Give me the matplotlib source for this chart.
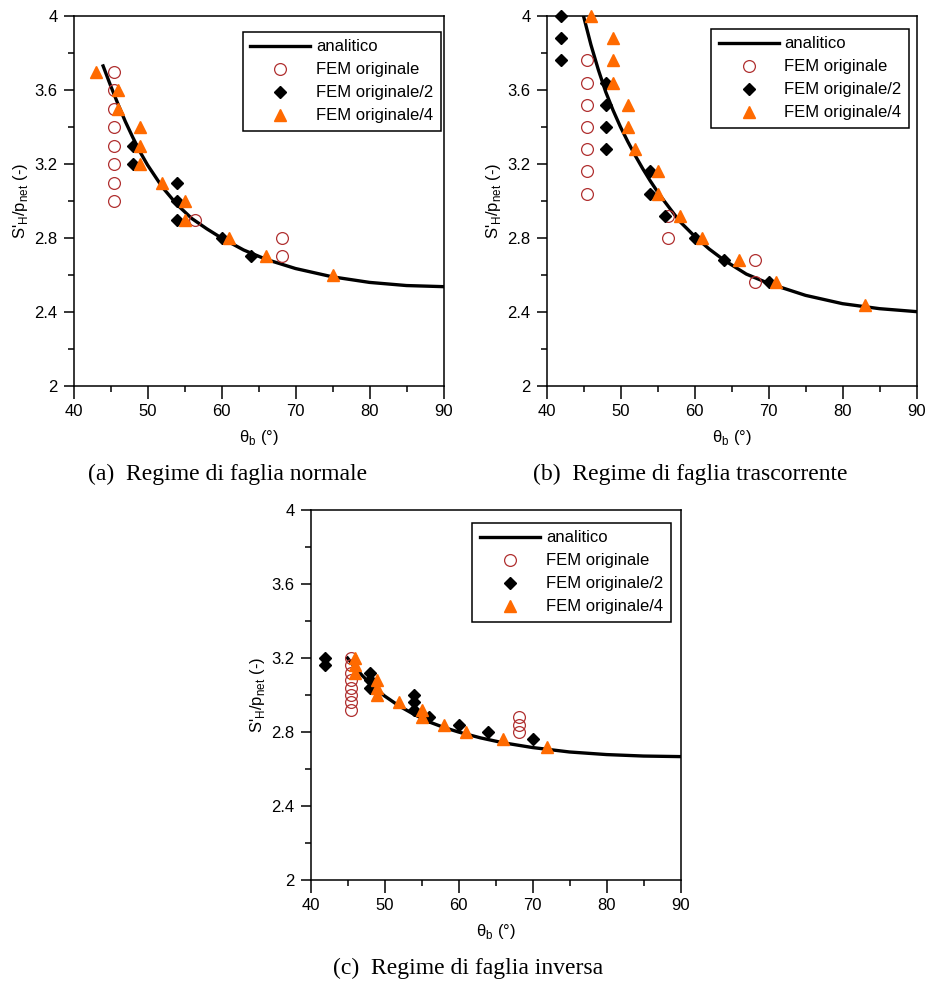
'''
S'H/pnet vs theta_b, tre regimi di faglia
'''

import matplotlib
matplotlib.use('Agg')
import matplotlib.pyplot as plt
from matplotlib.ticker import MultipleLocator, FormatStrFormatter

plt.rcParams['font.family'] = ['Liberation Sans', 'DejaVu Sans']
plt.rcParams['mathtext.fontset'] = 'custom'
plt.rcParams['mathtext.rm'] = 'Liberation Sans'

# --- (a) faglia normale ---
a_curve_x = [44.0, 45.0, 46.0, 47.0, 48.0, 49.0, 50.0, 52.0, 54.0, 56.0, 58.0, 60.0, 63.0, 66.0, 70.0, 75.0, 80.0, 85.0, 90.0]
a_curve_y = [3.73, 3.625, 3.525, 3.43, 3.345, 3.265, 3.195, 3.075, 2.98, 2.905, 2.85, 2.80, 2.735, 2.685, 2.635, 2.59, 2.56, 2.543, 2.537]
a_fem_x = [45.5, 45.5, 45.5, 45.5, 45.5, 45.5, 45.5, 45.5, 56.4, 68.2, 68.2]
a_fem_y = [3.7, 3.6, 3.5, 3.4, 3.3, 3.2, 3.1, 3.0, 2.9, 2.8, 2.7]
a_fem2_x = [48, 48, 54, 54, 54, 60, 64]
a_fem2_y = [3.3, 3.2, 3.1, 3.0, 2.9, 2.8, 2.7]
a_fem4_x = [43, 46, 46, 49, 49, 49, 52, 55, 55, 61, 66, 75]
a_fem4_y = [3.7, 3.6, 3.5, 3.4, 3.3, 3.2, 3.1, 3.0, 2.9, 2.8, 2.7, 2.6]

# --- (b) faglia trascorrente ---
b_curve_x = [45.0, 46.0, 47.0, 48.0, 49.0, 50.0, 51.0, 52.0, 53.0, 54.0, 55.0, 56.0, 58.0, 60.0, 62.0, 64.0, 67.0, 70.0, 75.0, 80.0, 85.0, 90.0]
b_curve_y = [4.0, 3.845, 3.71, 3.59, 3.49, 3.40, 3.32, 3.245, 3.175, 3.11, 3.05, 2.995, 2.89, 2.81, 2.74, 2.68, 2.605, 2.555, 2.49, 2.445, 2.418, 2.402]
b_fem_x = [45.5, 45.5, 45.5, 45.5, 45.5, 45.5, 45.5, 56.4, 56.4, 68.2, 68.2]
b_fem_y = [3.76, 3.64, 3.52, 3.40, 3.28, 3.16, 3.04, 2.92, 2.80, 2.68, 2.56]
b_fem2_x = [42, 42, 42, 48, 48, 48, 48, 54, 54, 56, 60, 64, 70]
b_fem2_y = [4.0, 3.88, 3.76, 3.64, 3.52, 3.40, 3.28, 3.16, 3.04, 2.92, 2.80, 2.68, 2.56]
b_fem4_x = [46, 49, 49, 49, 51, 51, 52, 55, 55, 58, 61, 66, 71, 83]
b_fem4_y = [4.0, 3.88, 3.76, 3.64, 3.52, 3.40, 3.28, 3.16, 3.04, 2.92, 2.80, 2.68, 2.56, 2.44]

# --- (c) faglia inversa ---
c_curve_x = [45.0, 46.0, 47.0, 48.0, 49.0, 50.0, 52.0, 54.0, 56.0, 58.0, 60.0, 63.0, 66.0, 70.0, 75.0, 80.0, 85.0, 90.0]
c_curve_y = [3.20, 3.15, 3.105, 3.065, 3.03, 2.995, 2.94, 2.895, 2.855, 2.825, 2.80, 2.768, 2.742, 2.716, 2.692, 2.678, 2.67, 2.667]
c_fem_x = [45.5, 45.5, 45.5, 45.5, 45.5, 45.5, 45.5, 45.5, 68.2, 68.2, 68.2]
c_fem_y = [3.20, 3.16, 3.12, 3.08, 3.04, 3.00, 2.96, 2.92, 2.88, 2.84, 2.80]
c_fem2_x = [42, 42, 48, 48, 48, 54, 54, 54, 56, 60, 64, 70]
c_fem2_y = [3.20, 3.16, 3.12, 3.08, 3.04, 3.00, 2.96, 2.92, 2.88, 2.84, 2.80, 2.76]
c_fem4_x = [46, 46, 46, 49, 49, 49, 52, 55, 55, 58, 61, 66, 72]
c_fem4_y = [3.20, 3.16, 3.12, 3.08, 3.04, 3.00, 2.96, 2.92, 2.88, 2.84, 2.80, 2.76, 2.72]

labels = ['analitico', 'FEM originale', 'FEM originale/2', 'FEM originale/4']
captions = ['(a)  Regime di faglia normale',
            '(b)  Regime di faglia trascorrente',
            '(c)  Regime di faglia inversa']

RED = '#b03030'
ORANGE = '#ff6a00'


def draw_panel(ax, cx, cy, fx, fy, f2x, f2y, f4x, f4y, leg_anchor):
    ax.plot(cx, cy, color='k', lw=2.4, label=labels[0], zorder=2)
    ax.plot(fx, fy, ls='none', marker='o', ms=8.5, mfc='none', mec=RED,
            mew=0.9, label=labels[1], clip_on=False, zorder=3)
    ax.plot(f2x, f2y, ls='none', marker='D', ms=6, color='k',
            label=labels[2], clip_on=False, zorder=4)
    ax.plot(f4x, f4y, ls='none', marker='^', ms=9, color=ORANGE,
            label=labels[3], clip_on=False, zorder=5)

    ax.set_xlim(40, 90)
    ax.set_ylim(2, 4)
    ax.xaxis.set_major_locator(MultipleLocator(10))
    ax.xaxis.set_minor_locator(MultipleLocator(5))
    ax.yaxis.set_major_locator(MultipleLocator(0.4))
    ax.yaxis.set_minor_locator(MultipleLocator(0.2))
    ax.yaxis.set_major_formatter(FormatStrFormatter('%g'))
    ax.tick_params(axis='x', which='major', direction='out', length=9,
                   width=1.1, labelsize=12, pad=4)
    ax.tick_params(axis='y', which='major', direction='out', length=7.5,
                   width=1.1, labelsize=12, pad=4)
    ax.tick_params(which='minor', direction='out', length=4, width=1.1)
    for s in ax.spines.values():
        s.set_linewidth(1.1)

    ax.set_xlabel('θ$_\\mathregular{b}$ (°)', fontsize=12, va='top')
    ax.xaxis.set_label_coords(0.5, -0.113)
    ax.set_ylabel(r"S'$_\mathregular{H}$/p$_\mathregular{net}$ (-)", fontsize=12)
    ax.yaxis.set_label_coords(-0.118, 0.5)

    leg = ax.legend(loc='upper right', bbox_to_anchor=leg_anchor,
                    borderaxespad=0, fancybox=False, framealpha=1,
                    edgecolor='k', fontsize=12, handlelength=3.6,
                    labelspacing=0.48, borderpad=0.45, handletextpad=0.35)
    leg.get_frame().set_linewidth(1.1)


fig = plt.figure(figsize=(9.27, 9.85), dpi=100)
W, H = 927.0, 985.0
aw, ah = 370 / W, 370 / H

ax_a = fig.add_axes([73.5 / W, (H - 386) / H, aw, ah])
ax_b = fig.add_axes([546.5 / W, (H - 386) / H, aw, ah])
ax_c = fig.add_axes([310.5 / W, (H - 880) / H, aw, ah])

draw_panel(ax_a, a_curve_x, a_curve_y, a_fem_x, a_fem_y, a_fem2_x, a_fem2_y,
           a_fem4_x, a_fem4_y, (0.993, 0.957))
draw_panel(ax_b, b_curve_x, b_curve_y, b_fem_x, b_fem_y, b_fem2_x, b_fem2_y,
           b_fem4_x, b_fem4_y, (0.98, 0.965))
draw_panel(ax_c, c_curve_x, c_curve_y, c_fem_x, c_fem_y, c_fem2_x, c_fem2_y,
           c_fem4_x, c_fem4_y, (0.973, 0.965))

cap_font = ['Liberation Serif', 'DejaVu Serif']
fig.text(228 / W, 1 - 474 / H, captions[0], ha='center', va='center',
         fontsize=17, family=cap_font)
fig.text(690 / W, 1 - 474 / H, captions[1], ha='center', va='center',
         fontsize=17, family=cap_font)
fig.text(468 / W, 1 - 968 / H, captions[2], ha='center', va='center',
         fontsize=17, family=cap_font)

fig.savefig('out.png', dpi=100)
